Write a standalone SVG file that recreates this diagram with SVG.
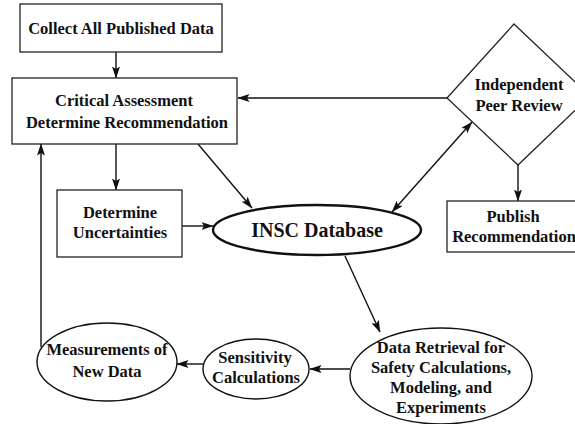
<svg xmlns="http://www.w3.org/2000/svg" width="575" height="424" viewBox="0 0 575 424">
<defs>
<style>
.box{fill:#fff;stroke:#222;stroke-width:1.3}
.ell{fill:#fff;stroke:#111;stroke-width:1.4}
.thick{stroke-width:2.4}
.t{font-family:"Liberation Serif","Times New Roman",serif;font-weight:bold;font-size:16.5px;fill:#111;text-anchor:middle}
.big{font-size:20px}
.c{fill:none;stroke:#111;stroke-width:1.4}
</style>
<marker id="ah" viewBox="0 0 12 8" refX="11.5" refY="4" markerWidth="12" markerHeight="8" markerUnits="userSpaceOnUse" orient="auto-start-reverse">
<path d="M0,0 L12,4 L0,8 L2.5,4 Z" fill="#111"/>
</marker>
</defs>
<rect width="575" height="424" fill="#fff"/>
<g id="connectors">
<line class="c" x1="116" y1="52" x2="116" y2="78" marker-end="url(#ah)"/>
<line class="c" x1="447" y1="98" x2="238" y2="98" marker-end="url(#ah)"/>
<line class="c" x1="116" y1="144" x2="116" y2="190" marker-end="url(#ah)"/>
<line class="c" x1="198" y1="144" x2="252" y2="208" marker-end="url(#ah)"/>
<line class="c" x1="182" y1="226" x2="213" y2="226" marker-end="url(#ah)"/>
<line class="c" x1="392" y1="212" x2="472" y2="122" marker-start="url(#ah)" marker-end="url(#ah)"/>
<line class="c" x1="518" y1="165" x2="518" y2="201" marker-end="url(#ah)"/>
<line class="c" x1="345" y1="256" x2="380" y2="332" marker-end="url(#ah)"/>
<line class="c" x1="350" y1="369" x2="310" y2="369" marker-end="url(#ah)"/>
<line class="c" x1="203" y1="364" x2="177" y2="364" marker-end="url(#ah)"/>
<line class="c" x1="41" y1="347" x2="41" y2="144" marker-end="url(#ah)"/>
</g>
<g id="collect">
<rect class="box" x="20" y="4" width="202" height="48"/>
<text class="t" x="121" y="34">Collect All Published Data</text>
</g>
<g id="critical">
<rect class="box" x="12" y="78" width="225" height="66"/>
<text class="t" x="124" y="106">Critical Assessment</text>
<text class="t" x="127" y="128">Determine Recommendation</text>
</g>
<g id="peer">
<polygon class="box" points="514,24 590,96 518,165 447,98"/>
<text class="t" x="519" y="90">Independent</text>
<text class="t" x="519" y="111">Peer Review</text>
</g>
<g id="publish">
<rect class="box" x="447" y="201" width="140" height="51"/>
<text class="t" x="513" y="222">Publish</text>
<text class="t" x="514" y="242">Recommendation</text>
</g>
<g id="uncert">
<rect class="box" x="57" y="190" width="125" height="67"/>
<text class="t" x="120" y="218">Determine</text>
<text class="t" x="120" y="238">Uncertainties</text>
</g>
<g id="insc">
<ellipse class="ell thick" cx="317" cy="230" rx="104" ry="25"/>
<text class="t big" x="317" y="237">INSC Database</text>
</g>
<g id="retrieval">
<ellipse class="ell" cx="441" cy="376" rx="91" ry="48"/>
<text class="t" x="441" y="353">Data Retrieval for</text>
<text class="t" x="441" y="373">Safety Calculations,</text>
<text class="t" x="441" y="393">Modeling, and</text>
<text class="t" x="441" y="413">Experiments</text>
</g>
<g id="sensitivity">
<ellipse class="ell" cx="256" cy="369" rx="53" ry="30"/>
<text class="t" x="255" y="363">Sensitivity</text>
<text class="t" x="256" y="383">Calculations</text>
</g>
<g id="measure">
<ellipse class="ell" cx="107" cy="362" rx="70" ry="39"/>
<text class="t" x="107" y="355">Measurements of</text>
<text class="t" x="107" y="377">New Data</text>
</g>
</svg>
